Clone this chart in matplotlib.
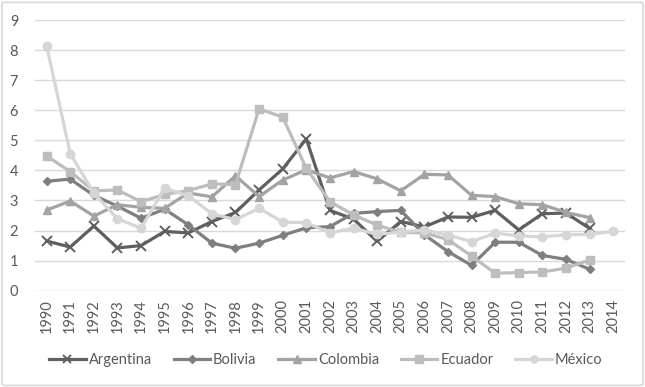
import numpy as np
import matplotlib.pyplot as plt
from matplotlib.patches import FancyBboxPatch

plt.rcParams['font.family'] = ['Lato', 'DejaVu Sans']

years = [str(y) for y in range(1990, 2015)]

argentina = [1.65, 1.45, 2.15, 1.42, 1.5, 1.97, 1.92, 2.3, 2.6, 3.35, 4.05, 5.05,
             2.67, 2.38, 1.64, 2.3, 2.12, 2.45, 2.44, 2.67, 2.02, 2.56, 2.58, 2.07]
bolivia = [3.64, 3.71, 3.17, 2.81, 2.41, 2.71, 2.19, 1.58, 1.41, 1.58, 1.84, 2.09,
           2.13, 2.57, 2.63, 2.67, 1.86, 1.3, 0.84, 1.61, 1.61, 1.17, 1.04, 0.71]
colombia = [2.68, 2.98, 2.48, 2.86, 2.77, 2.74, 3.25, 3.12, 3.82, 3.13, 3.68, 4.02,
            3.75, 3.96, 3.72, 3.32, 3.87, 3.85, 3.17, 3.13, 2.89, 2.86, 2.6, 2.43]
ecuador = [4.48, 3.96, 3.32, 3.35, 2.96, 3.2, 3.33, 3.55, 3.53, 6.05, 5.77, 4.07,
           2.96, 2.52, 2.18, 1.94, 1.92, 1.7, 1.15, 0.58, 0.6, 0.62, 0.75, 1.02]
mexico = [8.15, 4.56, 3.25, 2.39, 2.08, 3.41, 3.16, 2.56, 2.36, 2.74, 2.28, 2.26,
          1.92, 2.08, 1.87, 1.95, 2.02, 1.85, 1.63, 1.91, 1.82, 1.79, 1.86, 1.87, 1.97]

series = [
    ('Argentina', argentina, '#5f5f5f', 'x'),
    ('Bolivia', bolivia, '#7f7f7f', 'D'),
    ('Colombia', colombia, '#a3a3a3', '^'),
    ('Ecuador', ecuador, '#bdbdbd', 's'),
    ('México', mexico, '#d6d6d6', 'o'),
]

fig = plt.figure(figsize=(6.45, 3.87), dpi=100)
ax = fig.add_axes([0.054, 0.249, 0.915, 0.699])

x = np.arange(len(years))
for name, vals, col, mk in series:
    ms = 6
    if mk == 'D':
        ms = 4.5
    elif mk == 'x':
        ms = 7
    ax.plot(x[:len(vals)], vals, color=col, lw=2.3, marker=mk, ms=ms,
            mew=1.4 if mk == 'x' else 1, mec=col, mfc=col, label=name)

ax.set_xlim(-0.5, len(years) - 0.5)
ax.set_ylim(0, 9)
ax.set_yticks(range(0, 10))
ax.set_xticks(x)
ax.set_xticklabels(years, rotation=90)
ax.tick_params(axis='both', length=0, labelsize=10.5, colors='#595959', pad=6)
ax.tick_params(axis='y', pad=12)
ax.grid(axis='y', color='#d9d9d9', lw=1)
ax.set_axisbelow(True)
for s in ax.spines.values():
    s.set_visible(False)

fig.legend(loc='center', bbox_to_anchor=(0.505, 0.07), ncol=5, frameon=False,
           fontsize=10.5, labelcolor='#595959', handlelength=2.5,
           columnspacing=1.5, handletextpad=0.2, markerscale=0.85)

border = FancyBboxPatch((0.003, 0.004), 0.994, 0.99, boxstyle='round,pad=0,rounding_size=0.005',
                        transform=fig.transFigure, fill=False, ec='#d9d9d9', lw=1.2)
fig.patches.append(border)

fig.savefig('out.png', dpi=100)
